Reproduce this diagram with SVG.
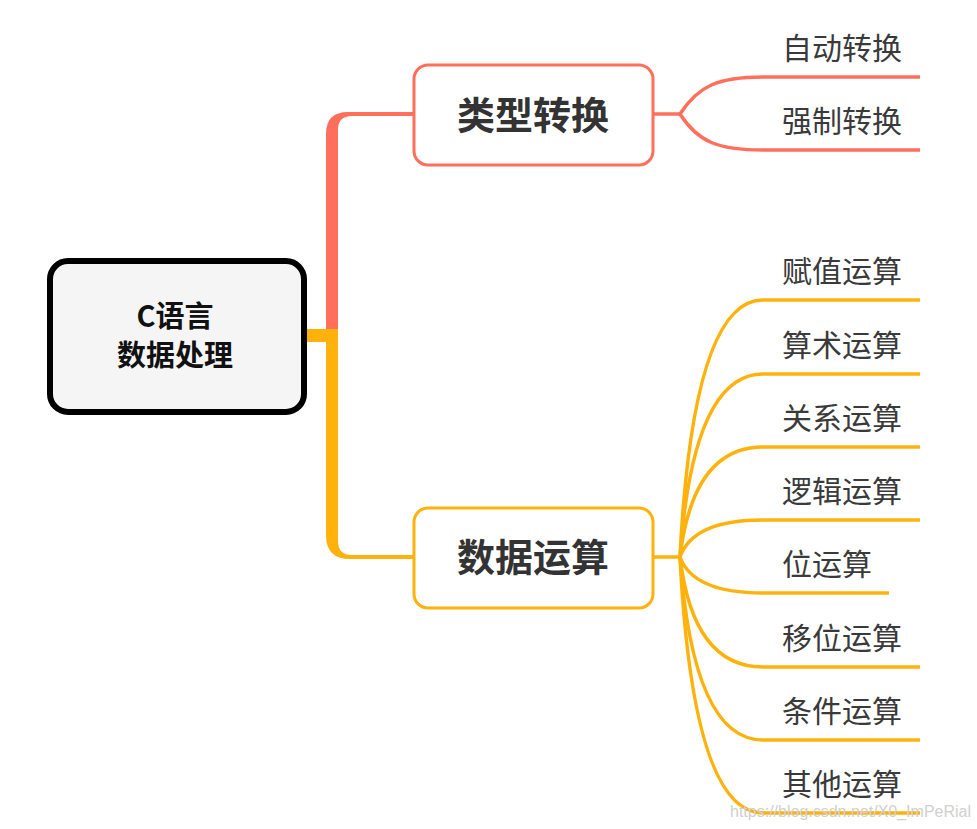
<svg xmlns="http://www.w3.org/2000/svg" width="977" height="829" viewBox="0 0 977 829">
<style>
.lbl{font-family:"Noto Sans CJK SC","Noto Sans",sans-serif;font-size:30px;fill:#3a3a3a}
.title{font-family:"Noto Sans CJK SC","Noto Sans",sans-serif;font-size:38px;font-weight:bold;fill:#333333;text-anchor:middle}
.root{font-family:"Noto Sans CJK SC","Noto Sans",sans-serif;font-size:29px;font-weight:bold;fill:#111111;text-anchor:middle}
.red{fill:none;stroke:#FF6F5C;stroke-width:3.5}
.yel{fill:none;stroke:#FFB20C;stroke-width:3.5}
.wm{font-family:"Liberation Sans",Arial,sans-serif;font-size:16px;fill:#d0d0d0}
</style>
<rect width="977" height="829" fill="#ffffff"/>
<g id="connectors">
  <rect x="304" y="329" width="34" height="13" fill="#FFB20C"/>
  <path d="M326,330 L326,134 Q326,112 348,112 L413,112 L413,116 L352,116 Q338,116 338,130 L338,330 Z" fill="#FF6F5C"/>
  <path d="M326,329 L326,535 Q326,559 350,559 L413,559 L413,555 L352,555 Q338,555 338,541 L338,329 Z" fill="#FFB20C"/>
  <path class="red" d="M653,114 L680,114"/>
  <path class="red" d="M680,114 C698,86 718,77 763,77 L920,77"/>
  <path class="red" d="M680,114 C698,142 718,150 763,150 L920,150"/>
  <path class="yel" d="M653,557 L680,557"/>
  <path class="yel" d="M680,557 Q693,300 763,300 L920,300"/>
  <path class="yel" d="M680,557 Q693,374 763,374 L920,374"/>
  <path class="yel" d="M680,557 Q693,447 763,447 L920,447"/>
  <path class="yel" d="M680,557 Q693,520 763,520 L920,520"/>
  <path class="yel" d="M680,557 Q693,593 763,593 L889,593"/>
  <path class="yel" d="M680,557 Q693,667 763,667 L920,667"/>
  <path class="yel" d="M680,557 Q693,740 763,740 L920,740"/>
  <path class="yel" d="M680,557 Q693,813 763,813 L920,813"/>
</g>
<g id="root">
  <rect x="50" y="261" width="254" height="151" rx="18" fill="#f5f5f5" stroke="#000000" stroke-width="6"/>
  <text class="root" x="175" y="327">C语言</text>
  <text class="root" x="175" y="366">数据处理</text>
</g>
<g id="node-type">
  <rect x="414" y="65" width="239" height="100" rx="14" fill="#ffffff" stroke="#FF6F5C" stroke-width="3"/>
  <text class="title" x="533" y="129">类型转换</text>
</g>
<g id="node-op">
  <rect x="414" y="508" width="239" height="100" rx="14" fill="#ffffff" stroke="#FFB20C" stroke-width="3"/>
  <text class="title" x="533" y="571">数据运算</text>
</g>
<g id="leaf-auto"><text class="lbl" x="782" y="59">自动转换</text></g>
<g id="leaf-force"><text class="lbl" x="782" y="132">强制转换</text></g>
<g id="leaf-assign"><text class="lbl" x="782" y="282">赋值运算</text></g>
<g id="leaf-arith"><text class="lbl" x="782" y="356">算术运算</text></g>
<g id="leaf-rel"><text class="lbl" x="782" y="429">关系运算</text></g>
<g id="leaf-logic"><text class="lbl" x="782" y="502">逻辑运算</text></g>
<g id="leaf-bit"><text class="lbl" x="782" y="575">位运算</text></g>
<g id="leaf-shift"><text class="lbl" x="782" y="649">移位运算</text></g>
<g id="leaf-cond"><text class="lbl" x="782" y="722">条件运算</text></g>
<g id="leaf-other"><text class="lbl" x="782" y="795">其他运算</text></g>
<text class="wm" x="730" y="817">https://blog.csdn.net/X0_ImPeRial</text>
</svg>
